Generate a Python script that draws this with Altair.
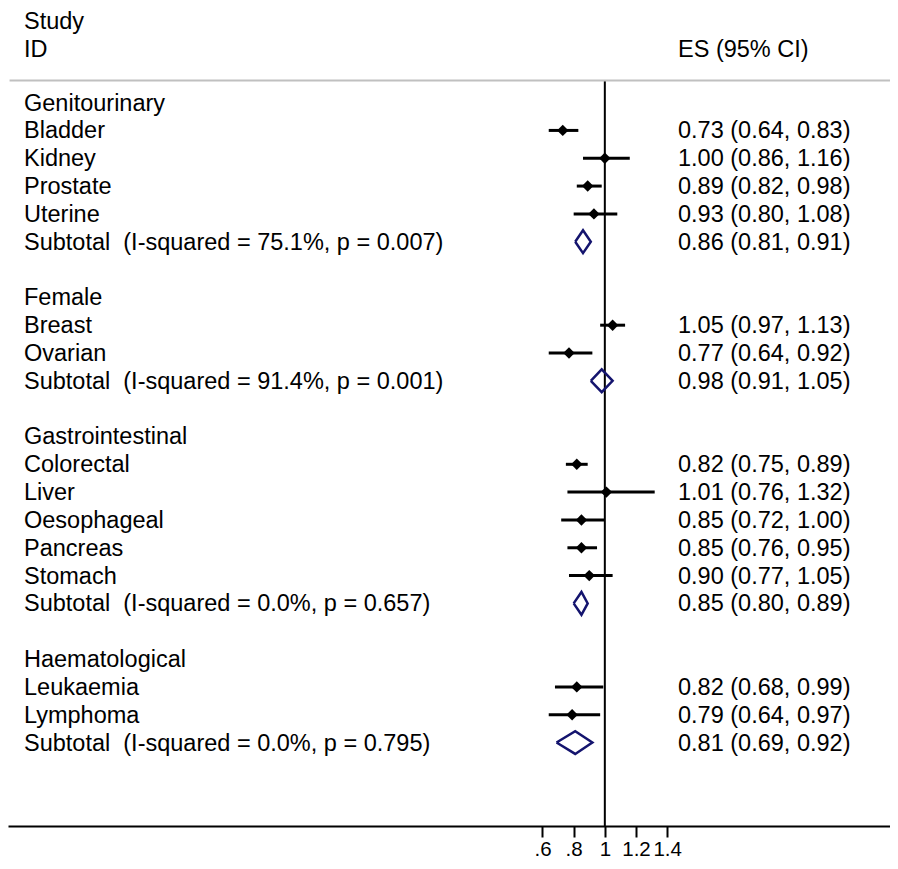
import altair as alt
import pandas as pd

# ---------------- data ----------------
group_names = ["Genitourinary", "Female", "Gastrointestinal", "Haematological"]
study_names = [
    ["Bladder", "Kidney", "Prostate", "Uterine"],
    ["Breast", "Ovarian"],
    ["Colorectal", "Liver", "Oesophageal", "Pancreas", "Stomach"],
    ["Leukaemia", "Lymphoma"],
]
study_es = [[0.73, 1.00, 0.89, 0.93], [1.05, 0.77], [0.82, 1.01, 0.85, 0.85, 0.90], [0.82, 0.79]]
study_lo = [[0.64, 0.86, 0.82, 0.80], [0.97, 0.64], [0.75, 0.76, 0.72, 0.76, 0.77], [0.68, 0.64]]
study_hi = [[0.83, 1.16, 0.98, 1.08], [1.13, 0.92], [0.89, 1.32, 1.00, 0.95, 1.05], [0.99, 0.97]]
sub_i2 = ["75.1%", "91.4%", "0.0%", "0.0%"]
sub_p = ["0.007", "0.001", "0.657", "0.795"]
sub_es = [0.86, 0.98, 0.85, 0.81]
sub_lo = [0.81, 0.91, 0.80, 0.69]
sub_hi = [0.91, 1.05, 0.89, 0.92]
tick_values = [0.6, 0.8, 1.0, 1.2, 1.4]
tick_labels = [".6", ".8", "1", "1.2", "1.4"]
header_left = ["Study", "ID"]
header_right = "ES (95% CI)"

# ---------------- build tables ----------------
def fmt(es, lo, hi):
    return f"{es:.2f} ({lo:.2f}, {hi:.2f})"

text_rows, study_rows, diamond_rows = [], [], []
r = 0
for g in range(len(group_names)):
    text_rows.append({"row": r, "left": group_names[g], "right": ""})
    r += 1
    for name, es, lo, hi in zip(study_names[g], study_es[g], study_lo[g], study_hi[g]):
        text_rows.append({"row": r, "left": name, "right": fmt(es, lo, hi)})
        study_rows.append({"row": r, "es": es, "lo": lo, "hi": hi})
        r += 1
    text_rows.append({"row": r,
                      "left": f"Subtotal \u00a0(I-squared = {sub_i2[g]}, p = {sub_p[g]})",
                      "right": fmt(sub_es[g], sub_lo[g], sub_hi[g])})
    hh = 0.41
    verts = [(sub_lo[g], r), (sub_es[g], r - hh), (sub_hi[g], r), (sub_es[g], r + hh), (sub_lo[g], r)]
    for k, (vx, vy) in enumerate(verts):
        diamond_rows.append({"grp": g, "k": k, "x": vx, "y": vy})
    r += 2

for i, h in enumerate(header_left):
    text_rows.append({"row": -2.93 + i, "left": h, "right": header_right if i == 1 else ""})

texts = pd.DataFrame(text_rows)
studies = pd.DataFrame(study_rows)
diamonds = pd.DataFrame(diamond_rows)

# ---------------- scales / layout ----------------
FONT = "Liberation Sans"
FS = 23.5
X_MIN, X_MAX = -2.83, 2.83
Y_TOP, Y_BOT = -3.40, 26.0
LINE_Y = -0.79
NAVY = "#14146e"

label_expr = "".join(
    f"abs(datum.value - {v}) < 1e-6 ? '{l}' : " for v, l in zip(tick_values, tick_labels)
) + "''"

xscale = alt.Scale(domain=[X_MIN, X_MAX], nice=False, zero=False)
yscale = alt.Scale(domain=[Y_TOP, Y_BOT], reverse=True, nice=False, zero=False)
xaxis = alt.Axis(values=tick_values, labelExpr=label_expr, grid=False, title=None,
                 domainColor="black", domainWidth=2, tickColor="black", tickWidth=2,
                 tickSize=11, labelFont=FONT, labelFontSize=20.5, labelColor="black",
                 labelPadding=2, labelOverlap=False, labelFlush=False, labelBound=False)


def X(field):
    return alt.X(field, type="quantitative", scale=xscale, axis=xaxis)


def Y(field):
    return alt.Y(field, type="quantitative", scale=yscale, axis=None)


# reference line at 1
ref = alt.Chart(pd.DataFrame({"v": [1.0], "y1": [LINE_Y], "y2": [Y_BOT]})).mark_rule(
    color="black", strokeWidth=2
).encode(x=X("v"), y=Y("y1"), y2="y2")

# grey header separator
sep = alt.Chart(pd.DataFrame({"x1": [-2.82], "x2": [2.86], "y": [LINE_Y]})).mark_rule(
    color="#c0c0c0", strokeWidth=2
).encode(x=X("x1"), x2="x2", y=Y("y"))

ci = alt.Chart(studies).mark_rule(color="black", strokeWidth=3).encode(
    x=X("lo"), x2="hi", y=Y("row")
)
pts = alt.Chart(studies).mark_point(shape="diamond", filled=True, color="black", size=130, opacity=1).encode(
    x=X("es"), y=Y("row")
)
dia = alt.Chart(diamonds).mark_line(color=NAVY, strokeWidth=2.5, strokeJoin="miter").encode(
    x=X("x"), y=Y("y"), detail="grp:N", order="k:Q"
)

left_txt = alt.Chart(texts).mark_text(align="left", baseline="middle", font=FONT, fontSize=FS,
                                      color="black", dy=1).encode(
    x=alt.value(16), y=Y("row"), text="left:N"
)
right_txt = alt.Chart(texts).mark_text(align="left", baseline="middle", font=FONT, fontSize=FS,
                                       color="black", dy=1).encode(
    x=alt.value(670), y=Y("row"), text="right:N"
)

chart = alt.layer(ref, sep, ci, pts, dia, left_txt, right_txt).properties(
    width=882, height=818,
    autosize=alt.AutoSizeParams(type="none"),
    padding={"left": 0, "top": 0, "right": 0, "bottom": 35},
    background="white",
).configure_view(stroke=None)

chart.save("out.html", embed_options={"renderer": "svg", "actions": False})
